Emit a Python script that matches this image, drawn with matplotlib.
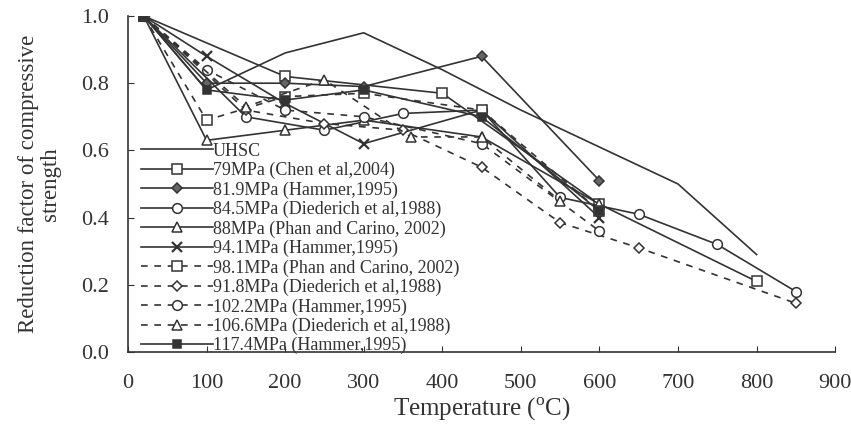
import matplotlib
matplotlib.use("Agg")
import matplotlib.pyplot as plt

plt.rcParams["font.family"] = ["Liberation Serif", "DejaVu Serif"]
plt.rcParams["mathtext.fontset"] = "custom"
plt.rcParams["mathtext.rm"] = "Liberation Serif"

# temperature (°C) and reduction factor of compressive strength for each concrete
t_uhsc = [20, 100, 200, 300, 400, 500, 600, 700, 800]
r_uhsc = [1.00, 0.78, 0.89, 0.95, 0.84, 0.72, 0.61, 0.50, 0.29]

t_chen79 = [20, 200, 400, 600, 800]
r_chen79 = [1.00, 0.82, 0.77, 0.44, 0.21]

t_hammer = [20, 100, 200, 300, 450, 600]
r_hammer819 = [1.00, 0.80, 0.80, 0.79, 0.88, 0.51]
r_hammer941 = [1.00, 0.88, 0.74, 0.62, 0.72, 0.40]
r_hammer1022 = [1.00, 0.84, 0.72, 0.70, 0.62, 0.36]
r_hammer1174 = [1.00, 0.78, 0.75, 0.78, 0.70, 0.42]

t_phan = [20, 100, 200, 300, 450, 600]
r_phan88 = [1.00, 0.63, 0.66, 0.69, 0.64, 0.44]
r_phan981 = [1.00, 0.69, 0.76, 0.77, 0.72, 0.42]

t_died845 = [20, 150, 250, 350, 450, 550, 650, 750, 850]
r_died845 = [1.00, 0.70, 0.66, 0.71, 0.72, 0.46, 0.41, 0.32, 0.18]
t_died918 = [20, 150, 250, 350, 450, 550, 650, 850]
r_died918 = [1.00, 0.72, 0.68, 0.66, 0.55, 0.385, 0.31, 0.145]
t_died1066 = [20, 150, 250, 360, 450, 550]
r_died1066 = [1.00, 0.73, 0.81, 0.64, 0.64, 0.45]

labels = [
    "UHSC",
    "79MPa (Chen et al,2004)",
    "81.9MPa (Hammer,1995)",
    "84.5MPa (Diederich et al,1988)",
    "88MPa (Phan and Carino, 2002)",
    "94.1MPa (Hammer,1995)",
    "98.1MPa (Phan and Carino, 2002)",
    "91.8MPa (Diederich et al,1988)",
    "102.2MPa (Hammer,1995)",
    "106.6MPa (Diederich et al,1988)",
    "117.4MPa (Hammer,1995)",
]

series = [
    (t_uhsc, r_uhsc),
    (t_chen79, r_chen79),
    (t_hammer, r_hammer819),
    (t_died845, r_died845),
    (t_phan, r_phan88),
    (t_hammer, r_hammer941),
    (t_phan, r_phan981),
    (t_died918, r_died918),
    (t_hammer, r_hammer1022),
    (t_died1066, r_died1066),
    (t_hammer, r_hammer1174),
]

ink = "#333333"
dash = (0, (4, 4))
styles = [
    dict(ls="-", marker=None),
    dict(ls="-", marker="s", ms=7, mfc="white"),
    dict(ls="-", marker="D", ms=5, mfc="#666666"),
    dict(ls="-", marker="o", ms=7, mfc="white"),
    dict(ls="-", marker="^", ms=7, mfc="white"),
    dict(ls="-", marker="x", ms=7, mew=1.6),
    dict(ls=dash, marker="s", ms=7, mfc="white"),
    dict(ls=dash, marker="D", ms=5, mfc="white"),
    dict(ls=dash, marker="o", ms=7, mfc="white"),
    dict(ls=dash, marker="^", ms=7, mfc="white"),
    dict(ls="-", marker="s", ms=6, mfc=ink),
]

fig = plt.figure(figsize=(8.51, 4.30), dpi=100)
ax = fig.add_axes([0.1504, 0.1814, 0.831, 0.7814])

for (t, r), lab, st in zip(series, labels, styles):
    st = dict(st)
    st.setdefault("mew", 1.1)
    ax.plot(t, r, color=ink, lw=1.2, mec=ink, label=lab, **st)

ax.set_xlim(0, 900)
ax.set_ylim(0, 1.0)
ax.set_xticks(range(0, 901, 100))
ax.set_yticks([0.0, 0.2, 0.4, 0.6, 0.8, 1.0])
ax.set_yticklabels([f"{v:.1f}" for v in [0.0, 0.2, 0.4, 0.6, 0.8, 1.0]])
ax.tick_params(direction="in", length=4, labelsize=16, colors=ink)
ax.tick_params(axis="x", pad=16)
ax.tick_params(axis="y", pad=14)
for s in ["top", "right"]:
    ax.spines[s].set_visible(False)
for s in ["left", "bottom"]:
    ax.spines[s].set_color(ink)
    ax.spines[s].set_linewidth(1.2)

ax.set_xlabel(r"Temperature ($^{\rm o}$C)", fontsize=18, color=ink, labelpad=2)
ax.set_ylabel("Reduction factor of compressive\nstrength", fontsize=16.5,
              color=ink, labelpad=14, linespacing=1.05)

leg = ax.legend(loc="lower left", bbox_to_anchor=(0.0, -0.045), frameon=False,
                fontsize=13, handlelength=4.0, handletextpad=0.0,
                labelspacing=0.12, borderaxespad=0.3)
for txt in leg.get_texts():
    txt.set_color(ink)

fig.savefig("out.png", dpi=100)
